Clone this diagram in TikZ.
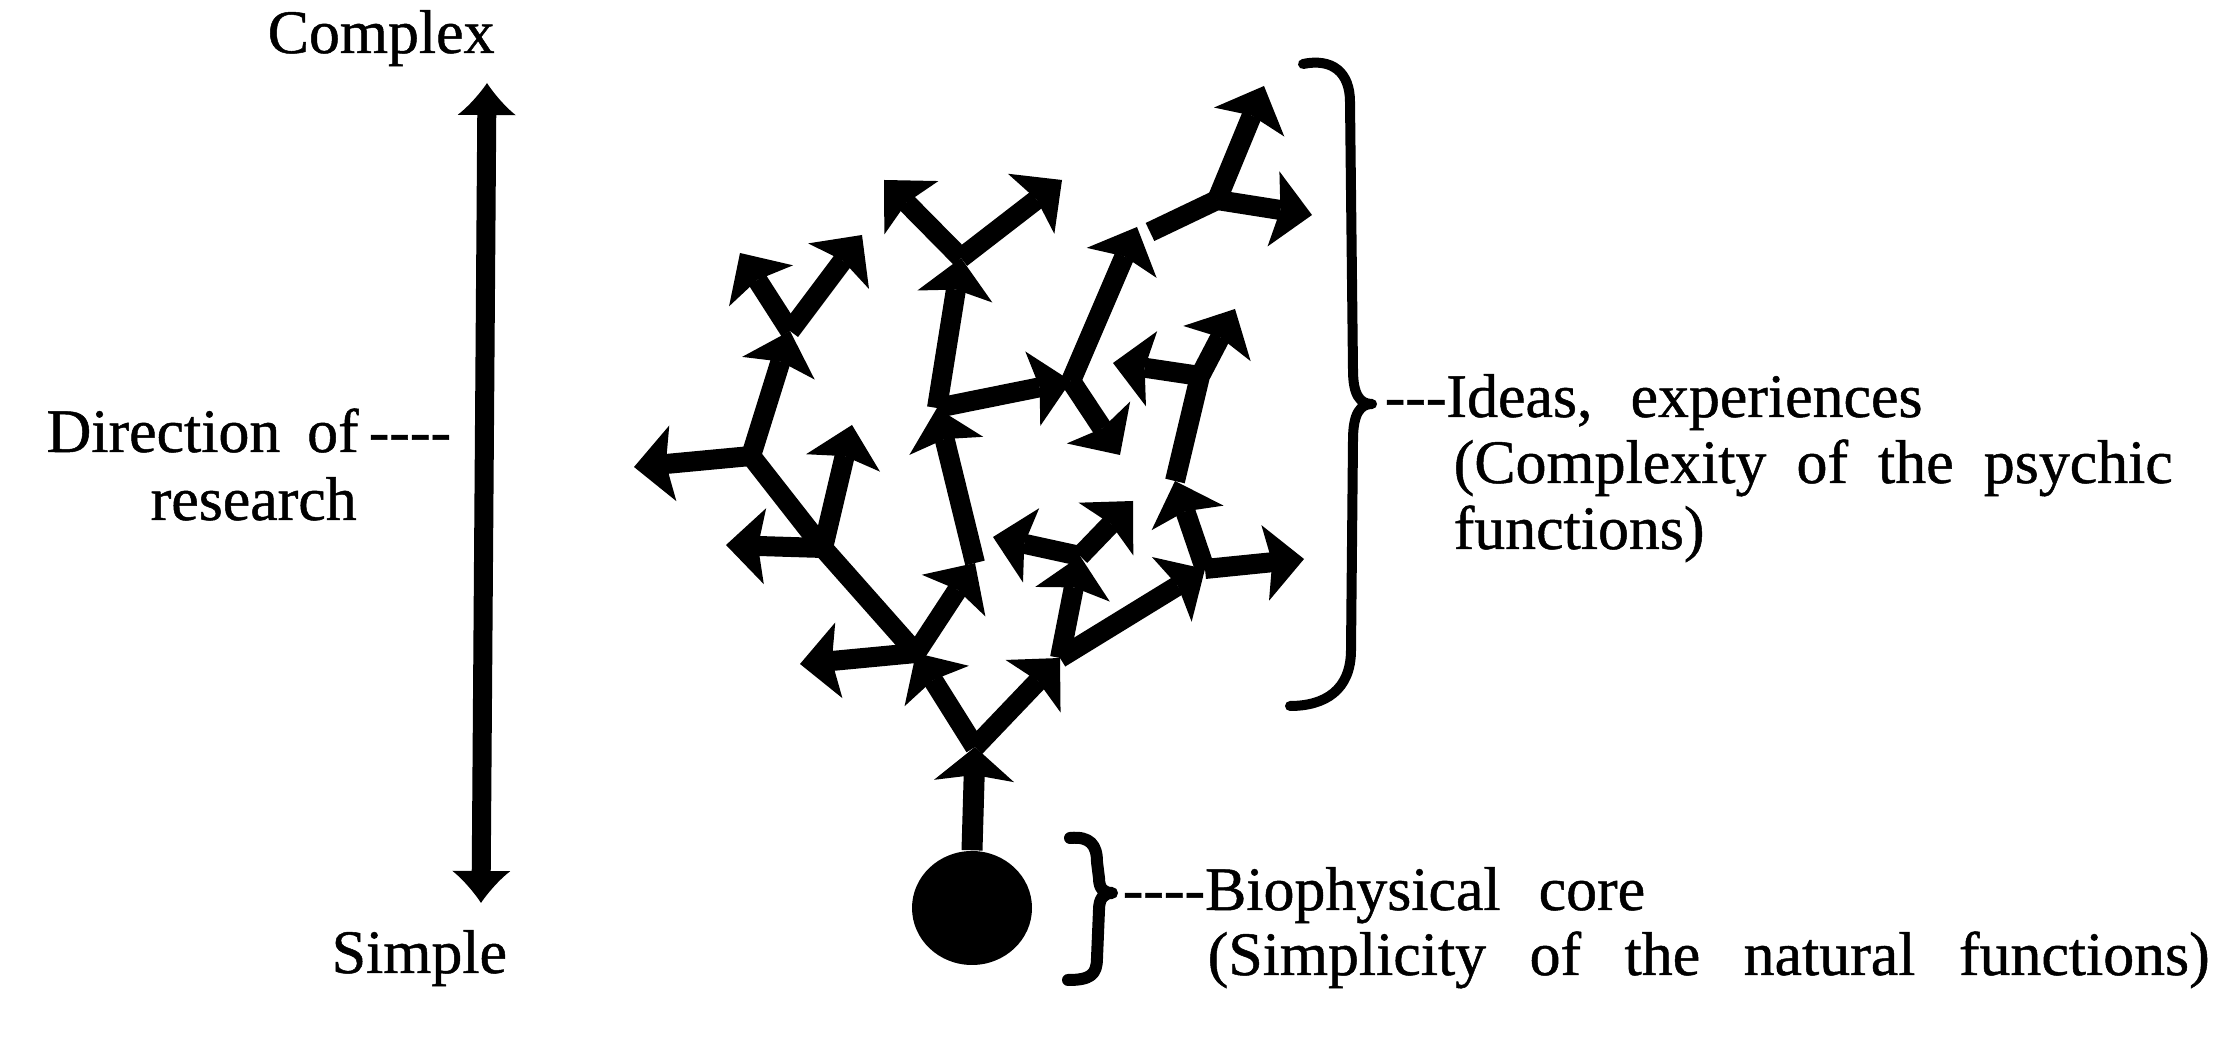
\documentclass[tikz,border=0pt]{standalone}
\usepackage{fontspec}
\setmainfont[FakeBold=0.8]{Liberation Serif}
\usetikzlibrary{arrows.meta,shapes.geometric}
\newcommand\hy{\mbox{-}}
\begin{document}
\begin{tikzpicture}[x=0.1mm,y=-0.1mm,
  txt/.style={font=\fontsize{17.6}{20}\selectfont, inner sep=0pt, anchor=base west},
  br/.style={line width=2mm, line join=round, line cap=butt,
     -{Stealth[length=3.9mm,width=7.6mm,inset=0.7mm,line width=0pt]}},
  stemarrow/.style={line width=2.1mm,
     -{Stealth[length=3.4mm,width=8mm,inset=0.6mm,line width=0pt]}},
  plainbr/.style={line width=2mm, line join=round},
  ax/.style={line width=1.9mm,
     {Latex[length=3.2mm,width=5.8mm,line width=0pt]}-{Latex[length=3.2mm,width=5.8mm,line width=0pt]}},
  brace/.style={line width=1mm, line cap=round, line join=round}
]
\useasboundingbox (0,0) rectangle (2226,1051);

% ---- left axis and labels
\coordinate (axtop) at (487,83);
\coordinate (axbot) at (481,903);
\draw[ax] (axtop) -- (axbot);
\node[txt] (complex) at (267,53) {Complex};
\node[txt] (simple) at (331,973) {Simple};
\node[txt] (direction) at (46,452) {\makebox[31.2mm][s]{Direction of}\hspace{1mm}\hy\hy\hy\hy};
\node[txt] (research) at (150,520) {research};

% ---- core
\node[ellipse, fill=black, minimum width=12mm, minimum height=11.4mm, inner sep=0pt] (core) at (972,908) {};

% ---- tree points
\coordinate (n1) at (975,747);
\coordinate (n2) at (916,653);
\coordinate (n3) at (1060,658);
\coordinate (L1) at (800,664);
\coordinate (n4) at (975,563);
\coordinate (B) at (823,548);
\coordinate (A) at (751,456);
\coordinate (n5) at (790,331);
\coordinate (L2) at (726,545);
\coordinate (U1) at (852,425);
\coordinate (L3) at (634,467);
\coordinate (T1) at (740,253);
\coordinate (T2) at (862,235);
\coordinate (n6) at (937,408);
\coordinate (n7) at (961,258);
\coordinate (n8) at (1071,381);
\coordinate (T3) at (884,180);
\coordinate (T4) at (1062,180);
\coordinate (n9) at (1137,227);
\coordinate (n9s) at (1150,232);
\coordinate (D1) at (1120,455);
\coordinate (n10) at (1217,200);
\coordinate (T5) at (1264,86);
\coordinate (T6) at (1312,215);
\coordinate (n11) at (1080,556);
\coordinate (N) at (1205,569);
\coordinate (L4) at (993,537);
\coordinate (U2) at (1133,501);
\coordinate (n12) at (1175,481);
\coordinate (F) at (1200,376);
\coordinate (T7) at (1235,309);
\coordinate (L5) at (1113,363);
\coordinate (R1) at (1304,559);

% ---- tree connectors
\draw[stemarrow] (core.north) -- (n1);
\draw[br] (n1) -- (n2);
\draw[br] (n1) -- (n3);
\draw[br] (n2) -- (L1);
\draw[br] (n2) -- (n4);
\draw[br] (n2) -- (B) -- (A) -- (n5);
\draw[br] (B) -- (L2);
\draw[br] (B) -- (U1);
\draw[br] (A) -- (L3);
\draw[br] (n5) -- (T1);
\draw[br] (n5) -- (T2);
\draw[br] (n4) -- (n6);
\draw[br] (n6) -- (n7);
\draw[br] (n6) -- (n8);
\draw[br] (n7) -- (T3);
\draw[br] (n7) -- (T4);
\draw[br] (n8) -- (n9);
\draw[br] (n8) -- (D1);
\draw[plainbr] (n9s) -- (n10);
\draw[br] (n10) -- (T5);
\draw[br] (n10) -- (T6);
\draw[br] (n3) -- (n11);
\draw[br] (n3) -- (N);
\draw[br] (n11) -- (L4);
\draw[br] (n11) -- (U2);
\draw[br] (N) -- (n12);
\draw[br] (N) -- (R1);
\draw[br] (n12) -- (F) -- (T7);
\draw[br] (F) -- (L5);

% ---- right brace and labels
\coordinate (rbtop) at (1303,64);
\coordinate (rbtip) at (1372,404);
\coordinate (rbbot) at (1290,706);
\draw[brace] (rbtop) .. controls (1332,58) and (1350,72) .. (1350,102)
   -- (1353,370) .. controls (1353,395) and (1360,404) .. (rbtip)
   .. controls (1360,404) and (1353,414) .. (1353,440)
   -- (1351,650) .. controls (1351,690) and (1325,706) .. (rbbot);
\node[txt] (ideas) at (1384,417) {\hy\hy\hy\makebox[47.6mm][s]{Ideas, experiences}};
\node[txt] (compl) at (1453,483) {\makebox[71.9mm][s]{(Complexity of the psychic}};
\node[txt] (funcs) at (1453,549) {functions)};

% ---- bottom brace and labels
\coordinate (bbtop) at (1070,838);
\coordinate (bbtip) at (1112,893);
\coordinate (bbbot) at (1068,980);
\draw[brace, line width=1.2mm] (bbtop) .. controls (1090,836) and (1097,845) .. (1097,862)
   -- (1099,878) .. controls (1099,889) and (1104,893) .. (bbtip)
   .. controls (1104,893) and (1099,898) .. (1099,910)
   -- (1097,958) .. controls (1097,975) and (1090,980) .. (bbbot);
\node[txt] (bio) at (1122,910) {\hy\hy\hy\hy\makebox[44mm][s]{Biophysical core}};
\node[txt] (simpl) at (1207,975) {\makebox[100.2mm][s]{(Simplicity of the natural functions)}};
\end{tikzpicture}
\end{document}
